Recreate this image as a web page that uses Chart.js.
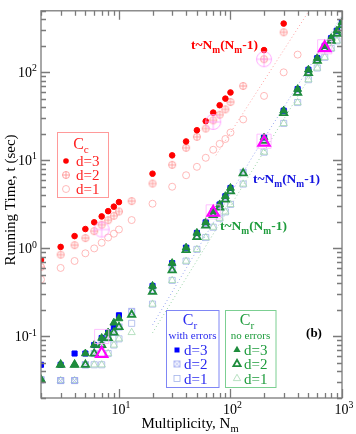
<!DOCTYPE html>
<html>
<head>
<meta charset="utf-8">
<script src="https://cdn.jsdelivr.net/npm/chart.js@4.4.1/dist/chart.umd.min.js"></script>
<style>
  html, body { margin: 0; padding: 0; background: #fff; }
  #wrap { width: 356px; height: 434px; }
</style>
</head>
<body>
<div id="wrap"><canvas id="graph"></canvas></div>
<script>
// C_c (complete) running times
const ccN3 = [2, 3, 4, 5, 6, 7, 8, 9, 10, 20, 30, 40, 50, 60, 70, 80, 90, 100, 200, 300];
const ccT3 = [0.74, 1.04, 1.38, 1.66, 1.98, 2.31, 2.65, 2.98, 3.36, 7.06, 11.4, 16.4, 22, 27.9, 34.9, 42.3, 50.3, 59.1, 179, 358];
const ccN2 = [2, 3, 4, 5, 6, 7, 8, 9, 10, 13, 20, 30, 40, 50, 60, 70, 80, 90, 100, 130, 200, 300];
const ccT2 = [0.615, 0.85, 1.09, 1.31, 1.57, 1.86, 2.09, 2.35, 2.63, 3.45, 5.46, 8.9, 13.9, 18.5, 23, 28.5, 33, 38, 46, 70, 141, 285];
const ccN1 = [2, 3, 4, 5, 6, 7, 8, 9, 10, 13, 20, 30, 40, 50, 60, 70, 80, 90, 100, 130, 200, 300, 400];
const ccT1 = [0.444, 0.60, 0.72, 0.88, 1.0, 1.16, 1.33, 1.47, 1.64, 2.10, 3.22, 5.02, 6.78, 8.45, 10.7, 13.2, 15.4, 17.5, 20.7, 29.2, 54, 100, 159];

// C_r multiplicities (null = no point)
const crN = [2, 3, 4, 5, 6, 7, 8, 9, 10, 13, 20, 30, 40, 50, 60, 70, 80, 90, 100, 130, 200, 300, 400, 500, 600, 700, 800, 900, 1000];
const greenT3 = [0.0322, 0.0477, 0.0477, 0.064, 0.080, 0.096, 0.111, 0.143, 0.160, null, 0.375, 0.681, 1.02, 1.50, 1.98, 2.65, 3.16, 3.92, 4.86, null, 18.2, 36.7, 64.5, 107, 145, 200, 245, 297, 371];
const greenT2 = [0.0322, 0.0477, 0.0477, 0.0477, 0.064, 0.080, 0.096, 0.111, 0.128, 0.177, 0.321, 0.565, 0.958, 1.35, 1.82, 2.39, 2.91, 3.6, 4.45, 7.13, 16.7, 34.5, 58.7, 98, 135, 185, 228, 275, 345];
const greenT1 = [0.0322, 0.0316, 0.0316, 0.0477, 0.0477, 0.0477, 0.064, 0.080, 0.094, 0.111, 0.233, 0.433, 0.717, 0.975, 1.33, 1.74, 2.2, 2.6, 3.16, 5.38, 12.4, 26.3, 45.4, 82.5, 112, 148, 187, 228, 292];
const blueT3 = [0.0477, 0.0477, 0.064, 0.064, 0.080, 0.096, 0.111, 0.128, 0.174, null, 0.375, 0.681, 1.02, 1.50, 1.98, 2.65, 3.16, 3.92, 4.86, null, 18.2, 36.7, 64.5, 107, 145, 200, 245, 297, 371];
const blueT2 = [0.0322, 0.0316, 0.0316, 0.0477, 0.064, 0.080, 0.096, 0.111, 0.128, 0.193, 0.34, 0.6, 1.0, 1.4, 1.9, 2.5, 3.05, 3.75, 4.6, 7.3, 17.5, 35, 60, 100, 140, 190, 235, 285, 355];
const blueT1 = [0.0322, 0.0316, 0.0316, 0.0477, 0.0477, 0.0477, 0.064, 0.080, 0.094, 0.141, 0.233, 0.433, 0.717, 0.975, 1.33, 1.74, 2.2, 2.6, 3.16, 5.38, 12.4, 26.3, 45.4, 82.5, 112, 148, 187, 228, 292];

// highlighted points
const hlTriN = [7, 70, 200, 700];
const hlTriT = [0.064, 2.56, 16, 190];
const hlSqN = [7, 70, 200, 700];
const hlSqT = [0.1, 2.6, 16.5, 195];
const hlCircN = [7, 70, 200];
const hlCircT = [1.64, 27.3, 141];

// t ~ Nm(Nm-1) guide lines (end points)
const fitRedN = [74, 500];
const fitRedT = [11.4, 488];
const fitBlueN = [20, 160, 1000];
const fitBlueT = [0.135, 11.4, 440];
const fitGreenN = [20, 1000];
const fitGreenT = [0.11, 350];

const xTicks = [10, 100, 1000];
const yTicks = [0.1, 1, 10, 100];

const SERIF = '"Liberation Serif", "DejaVu Serif", serif';

function pts(xs, ys) {
    const out = [];
    xs.forEach((x, i) => { if (ys[i] != null) out.push({ x: x, y: ys[i] }); });
    return out;
}

function icon(kind, r, color, lw) {
    const s = Math.ceil(2 * r + lw + 2);
    const c = document.createElement('canvas');
    c.width = s; c.height = s;
    const g = c.getContext('2d');
    const m = s / 2;
    g.strokeStyle = color;
    g.lineWidth = lw;
    g.beginPath();
    if (kind === 'circlePlus') {
        g.arc(m, m, r, 0, 2 * Math.PI);
        g.moveTo(m - r, m); g.lineTo(m + r, m);
        g.moveTo(m, m - r); g.lineTo(m, m + r);
    } else if (kind === 'squareX') {
        g.rect(m - r, m - r, 2 * r, 2 * r);
        g.moveTo(m - r, m - r); g.lineTo(m + r, m + r);
        g.moveTo(m + r, m - r); g.lineTo(m - r, m + r);
    }
    g.stroke();
    return c;
}

const pinkPlus = icon('circlePlus', 3.5, '#ff8c8c', 0.8);
const bigPlus = icon('circlePlus', 7.5, '#ff99ff', 0.8);
const blueX = icon('squareX', 3, '#9aa4f0', 0.8);

const C = {
    red: '#ff0000', pink: '#ff8c8c', pinkLight: '#ffa8a8',
    green: '#1e8c3c', greenLight: '#a6d9b2',
    blue: '#0000ff', blueLight: '#a4b4ea',
    mag: '#ff00ff', magLight: '#ffb0ff'
};

function scat(data, style, extra) {
    return Object.assign({ data: data, showLine: false, pointStyle: style, borderWidth: 1 }, extra);
}

const datasets = [
    scat(pts(hlTriN, hlTriT), 'triangle', { pointRadius: 6.5, borderColor: C.mag, backgroundColor: 'rgba(0,0,0,0)', borderWidth: 2.2 }),
    scat(pts(hlCircN, hlCircT), bigPlus, {}),
    scat(pts(hlSqN, hlSqT), 'rect', { pointRadius: 10, borderColor: C.magLight, backgroundColor: 'rgba(0,0,0,0)', borderWidth: 0.8 }),
    scat(pts(ccN3, ccT3), 'circle', { pointRadius: 2.8, borderColor: C.red, backgroundColor: C.red }),
    scat(pts(ccN2, ccT2), pinkPlus, {}),
    scat(pts(ccN1, ccT1), 'circle', { pointRadius: 3.5, borderColor: C.pinkLight, backgroundColor: 'rgba(0,0,0,0)', borderWidth: 0.8 }),
    scat(pts(crN, greenT3), 'triangle', { pointRadius: 4.5, borderColor: C.green, backgroundColor: C.green }),
    scat(pts(crN, greenT2), 'triangle', { pointRadius: 4.2, borderColor: C.green, backgroundColor: 'rgba(0,0,0,0)', borderWidth: 1.8 }),
    scat(pts(crN, blueT3), 'rect', { pointRadius: 3.6, borderColor: C.blue, backgroundColor: C.blue }),
    scat(pts(crN, blueT2), blueX, {}),
    scat(pts(crN, greenT1), 'triangle', { pointRadius: 4.2, borderColor: C.greenLight, backgroundColor: 'rgba(0,0,0,0)', borderWidth: 0.8 }),
    scat(pts(crN, blueT1), 'rect', { pointRadius: 4.3, borderColor: C.blueLight, backgroundColor: 'rgba(0,0,0,0)', borderWidth: 0.8 }),
    { data: pts(fitRedN, fitRedT), showLine: true, pointRadius: 0, borderColor: '#ffa0a0', borderWidth: 1, borderDash: [1, 2.5] },
    { data: pts(fitBlueN, fitBlueT), showLine: true, pointRadius: 0, borderColor: '#9aa8f0', borderWidth: 1, borderDash: [1, 2.5] },
    { data: pts(fitGreenN, fitGreenT), showLine: true, pointRadius: 0, borderColor: '#9ad4a8', borderWidth: 1, borderDash: [1, 2.5] }
];

// text with sub/superscripts: parts = [[text, 'n'|'sub'|'sup'], ...]
function rich(ctx, parts, x, y, size, weight, color, align) {
    const w = weight ? weight + ' ' : '';
    let total = 0;
    parts.forEach(p => {
        const s = p[1] === 'n' ? size : size * 0.7;
        ctx.font = w + s + 'px ' + SERIF;
        total += ctx.measureText(p[0]).width;
    });
    let cx = x;
    if (align === 'center') cx = x - total / 2;
    if (align === 'right') cx = x - total;
    ctx.fillStyle = color;
    ctx.textBaseline = 'alphabetic';
    ctx.textAlign = 'left';
    parts.forEach(p => {
        const s = p[1] === 'n' ? size : size * 0.7;
        ctx.font = w + s + 'px ' + SERIF;
        let dy = 0;
        if (p[1] === 'sub') dy = size * 0.28;
        if (p[1] === 'sup') dy = -size * 0.42;
        ctx.fillText(p[0], cx, y + dy);
        cx += ctx.measureText(p[0]).width;
    });
}

function sciLabel(v) {
    return [['10', 'n'], [String(Math.round(Math.log10(v))), 'sup']];
}

function minorValues(min, max) {
    const out = [];
    for (let e = -3; e <= 4; e++) {
        for (let m = 1; m <= 9; m++) {
            const v = m * Math.pow(10, e);
            if (v >= min * 0.999 && v <= max * 1.001) out.push({ v: v, major: m === 1 });
        }
    }
    return out;
}

function legendMark(ctx, kind, x, y) {
    ctx.save();
    ctx.lineWidth = 1;
    if (kind === 'redDot') {
        ctx.fillStyle = C.red; ctx.beginPath(); ctx.arc(x, y, 2.8, 0, 2 * Math.PI); ctx.fill();
    } else if (kind === 'pinkPlus') {
        ctx.drawImage(pinkPlus, x - pinkPlus.width / 2, y - pinkPlus.height / 2);
    } else if (kind === 'pinkCircle') {
        ctx.strokeStyle = C.pinkLight; ctx.lineWidth = 0.8; ctx.beginPath(); ctx.arc(x, y, 3.5, 0, 2 * Math.PI); ctx.stroke();
    } else if (kind === 'blueSq') {
        ctx.fillStyle = C.blue; ctx.fillRect(x - 2.5, y - 2.5, 5, 5);
    } else if (kind === 'blueX') {
        ctx.drawImage(blueX, x - blueX.width / 2, y - blueX.height / 2);
    } else if (kind === 'blueOpen') {
        ctx.strokeStyle = C.blueLight; ctx.lineWidth = 0.8; ctx.strokeRect(x - 3, y - 3, 6, 6);
    } else {
        const r = 4.2;
        ctx.beginPath();
        ctx.moveTo(x, y - r);
        ctx.lineTo(x + r * 0.866, y + r * 0.5);
        ctx.lineTo(x - r * 0.866, y + r * 0.5);
        ctx.closePath();
        if (kind === 'greenFill') { ctx.fillStyle = C.green; ctx.fill(); }
        else if (kind === 'greenOpen') { ctx.strokeStyle = C.green; ctx.lineWidth = 1.8; ctx.stroke(); }
        else { ctx.strokeStyle = C.greenLight; ctx.lineWidth = 0.8; ctx.stroke(); }
    }
    ctx.restore();
}

const decorations = {
    id: 'decorations',
    afterDatasetsDraw(chart) {
        const ctx = chart.ctx;
        const a = chart.chartArea;
        const xs = chart.scales.x, ys = chart.scales.y;
        ctx.save();

        // frame and inward ticks
        ctx.strokeStyle = '#7a7a7a';
        ctx.lineWidth = 1.3;
        ctx.strokeRect(a.left, a.top, a.right - a.left, a.bottom - a.top);
        ctx.beginPath();
        minorValues(xs.min, xs.max).forEach(t => {
            const px = Math.round(xs.getPixelForValue(t.v)) + 0.5;
            const len = t.major ? 9 : 5;
            ctx.moveTo(px, a.bottom); ctx.lineTo(px, a.bottom - len);
            ctx.moveTo(px, a.top); ctx.lineTo(px, a.top + len);
        });
        minorValues(ys.min, ys.max).forEach(t => {
            const py = Math.round(ys.getPixelForValue(t.v)) + 0.5;
            const len = t.major ? 9 : 5;
            ctx.moveTo(a.left, py); ctx.lineTo(a.left + len, py);
            ctx.moveTo(a.right, py); ctx.lineTo(a.right - len, py);
        });
        ctx.stroke();

        // tick labels
        xTicks.forEach(v => rich(ctx, sciLabel(v), xs.getPixelForValue(v) + 2, a.bottom + 16, 14, '', '#000', 'center'));
        yTicks.forEach(v => rich(ctx, sciLabel(v), a.left - 4, ys.getPixelForValue(v) + 5, 14, '', '#000', 'right'));

        // axis titles
        rich(ctx, [['Multiplicity, N', 'n'], ['m', 'sub']], 190, 428, 15, '', '#000', 'center');
        ctx.save();
        ctx.translate(15, 200);
        ctx.rotate(-Math.PI / 2);
        rich(ctx, [['Running Time, t (sec)', 'n']], 0, 0, 15, '', '#000', 'center');
        ctx.restore();

        // fit annotations
        const fitLabel = [['t~N', 'n'], ['m', 'sub'], ['(N', 'n'], ['m', 'sub'], ['-1)', 'n']];
        rich(ctx, fitLabel, 191, 49, 13.5, 'bold', '#ff0000', 'left');
        rich(ctx, fitLabel, 253, 183, 13.5, 'bold', '#1515e0', 'left');
        rich(ctx, fitLabel, 220, 230, 13.5, 'bold', '#1e9c3c', 'left');
        rich(ctx, [['(b)', 'n']], 314, 337, 13, 'bold', '#000', 'center');

        // legend boxes
        ctx.lineWidth = 1;
        ctx.strokeStyle = '#ff9a9a';
        ctx.strokeRect(57.5, 132.5, 51, 65);
        rich(ctx, [['C', 'n'], ['c', 'sub']], 81, 149, 16, '', '#ff2020', 'center');
        [['redDot', 'd=3', 161], ['pinkPlus', 'd=2', 175], ['pinkCircle', 'd=1', 189]].forEach(r => {
            legendMark(ctx, r[0], 66, r[2]);
            rich(ctx, [[r[1], 'n']], 76, r[2] + 5, 15, '', '#ff2020', 'left');
        });

        ctx.strokeStyle = '#7f86f5';
        ctx.strokeRect(166.5, 310.5, 52.5, 77);
        rich(ctx, [['C', 'n'], ['r', 'sub']], 190, 325, 16, '', '#2a2af0', 'center');
        rich(ctx, [['with errors', 'n']], 192.5, 339, 11, '', '#2a2af0', 'center');
        [['blueSq', 'd=3', 350], ['blueX', 'd=2', 364], ['blueOpen', 'd=1', 378.5]].forEach(r => {
            legendMark(ctx, r[0], 177, r[2]);
            rich(ctx, [[r[1], 'n']], 184, r[2] + 5, 15, '', '#2a2af0', 'left');
        });

        ctx.strokeStyle = '#7ccf92';
        ctx.strokeRect(225.5, 310.5, 50.5, 77);
        rich(ctx, [['C', 'n'], ['r', 'sub']], 247, 325, 16, '', '#1e9c3c', 'center');
        rich(ctx, [['no errors', 'n']], 250.5, 339, 11, '', '#1e9c3c', 'center');
        [['greenFill', 'd=3', 350], ['greenOpen', 'd=2', 364], ['greenLight', 'd=1', 378.5]].forEach(r => {
            legendMark(ctx, r[0], 237, r[2]);
            rich(ctx, [[r[1], 'n']], 244, r[2] + 5, 15, '', '#1e9c3c', 'left');
        });

        ctx.restore();
    }
};

const chart = new Chart(document.getElementById('graph'), {
    type: 'scatter',
    data: { datasets: datasets },
    options: {
        responsive: true,
        maintainAspectRatio: false,
        animation: false,
        layout: { padding: { left: 41, right: 14, top: 3, bottom: 36 } },
        plugins: { legend: { display: false }, tooltip: { enabled: false } },
        scales: {
            x: { type: 'logarithmic', min: 2, max: 1000, display: false },
            y: { type: 'logarithmic', min: 0.02, max: 500, display: false }
        }
    },
    plugins: [decorations]
});
</script>
</body>
</html>
